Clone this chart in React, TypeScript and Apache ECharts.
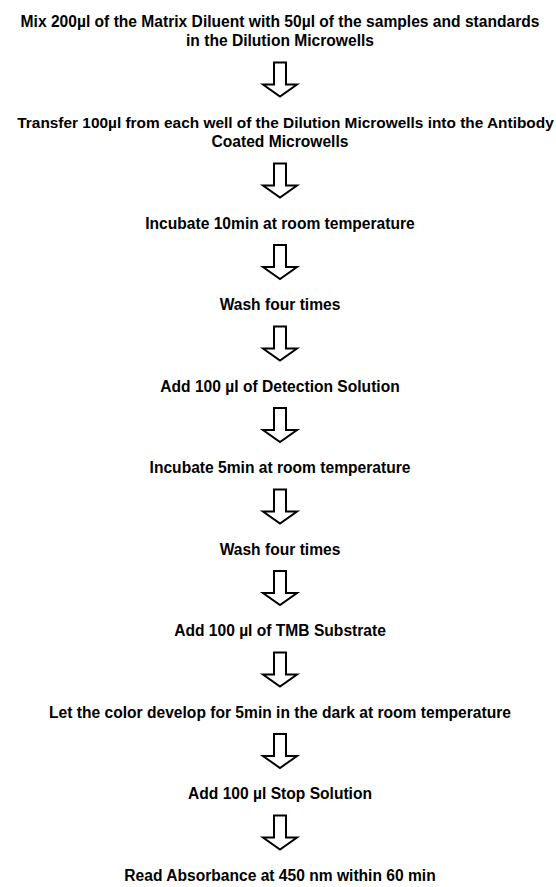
import React, { useEffect, useRef } from "react";
import * as echarts from "echarts";

// Flowchart steps (text content)
const steps: string[] = [
  "Mix 200µl of the Matrix Diluent with 50µl of the samples and standards\nin the Dilution Microwells",
  "Transfer 100µl from each well of the Dilution Microwells into the Antibody\nCoated Microwells",
  "Incubate 10min at room temperature",
  "Wash four times",
  "Add 100 µl of Detection Solution",
  "Incubate 5min at room temperature",
  "Wash four times",
  "Add 100 µl of TMB Substrate",
  "Let the color develop for 5min in the dark at room temperature",
  "Add 100 µl Stop Solution",
  "Read Absorbance at 450 nm within 60 min",
];

// Layout constants
const W = 556;
const H = 887;
const CX = 280;
const FIRST_Y = 21;
const LINE_H = 19.5;
const GAP_TOP = 22;
const ARROW_LEN = 34;
const GAP_BOTTOM = 25.5;
const SHAFT_HALF = 6;
const HEAD_HALF = 17;
const HEAD_LEN = 12;
const FONT_SIZE = 15.6;
const MAX_TEXT_W = 537;
const FAMILY = "'Liberation Sans', Arial, sans-serif";

function arrowPoints(top: number): number[][] {
  const headY = top + ARROW_LEN - HEAD_LEN;
  const tip = top + ARROW_LEN;
  return [
    [CX - SHAFT_HALF, top],
    [CX + SHAFT_HALF, top],
    [CX + SHAFT_HALF, headY],
    [CX + HEAD_HALF, headY],
    [CX, tip],
    [CX - HEAD_HALF, headY],
    [CX - SHAFT_HALF, headY],
  ];
}

export default function App() {
  const ref = useRef<HTMLDivElement>(null);
  useEffect(() => {
    document.body.style.margin = "0";
    if (!ref.current) return;
    const chart = echarts.init(ref.current, null, { renderer: "svg" });
    const ctx = document.createElement("canvas").getContext("2d");
    const measure = (t: string, size: number) => {
      if (!ctx) return 0;
      ctx.font = `bold ${size}px ${FAMILY}`;
      return ctx.measureText(t).width;
    };
    const elements: any[] = [];
    let y = FIRST_Y;
    steps.forEach((s, i) => {
      const lines = s.split("\n");
      lines.forEach((ln, j) => {
        let size = FONT_SIZE;
        let w = measure(ln, size);
        let x = CX;
        if (w > MAX_TEXT_W) {
          size = (FONT_SIZE * MAX_TEXT_W) / w;
          w = MAX_TEXT_W;
          x = Math.min(CX + 20, W - 2 - w / 2);
        }
        elements.push({
          type: "text",
          x,
          y: y + j * LINE_H,
          style: {
            text: ln,
            font: `bold ${size}px ${FAMILY}`,
            fill: "#000",
            textAlign: "center",
            textVerticalAlign: "middle",
          },
        });
      });
      const lastY = y + (lines.length - 1) * LINE_H;
      if (i < steps.length - 1) {
        const top = lastY + GAP_TOP;
        elements.push({
          type: "polygon",
          shape: { points: arrowPoints(top) },
          style: { fill: "#fff", stroke: "#000", lineWidth: 2, lineJoin: "miter" },
        });
        y = top + ARROW_LEN + GAP_BOTTOM;
      }
    });
    chart.setOption({
      animation: false,
      backgroundColor: "#fff",
      graphic: { elements },
    });
    return () => chart.dispose();
  }, []);
  return <div ref={ref} style={{ width: W, height: H }} />;
}
